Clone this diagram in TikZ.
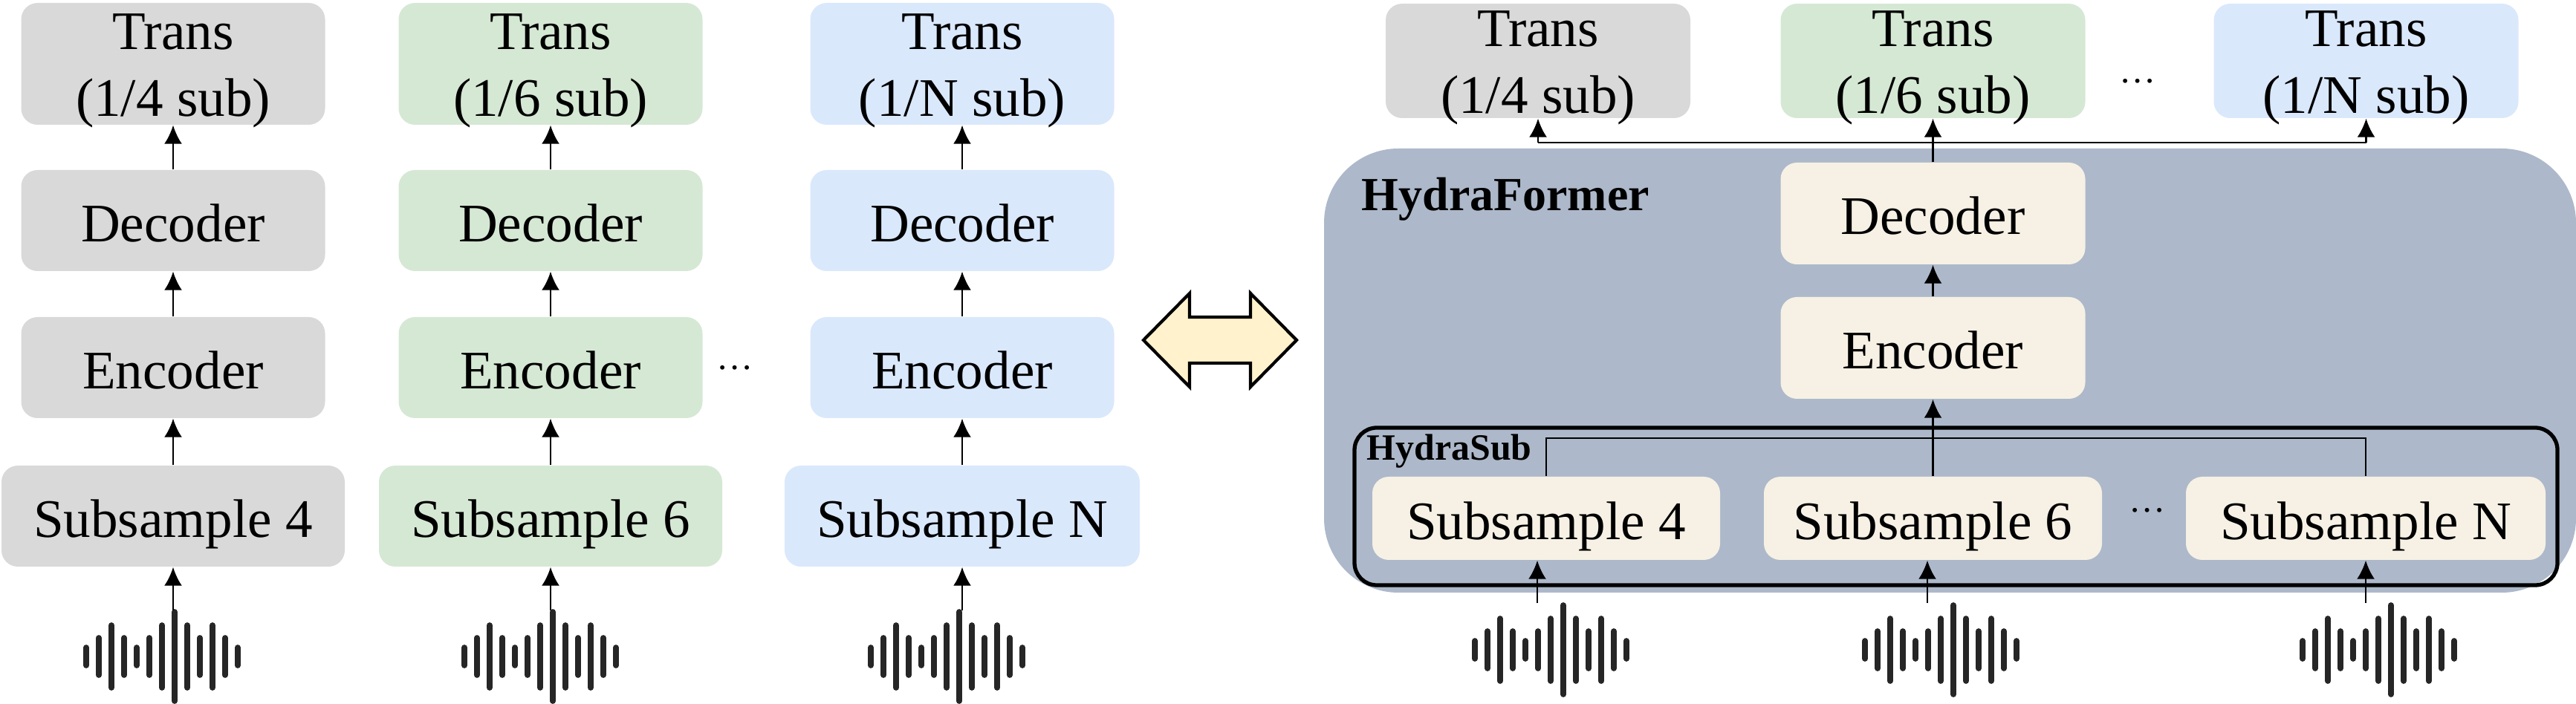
\documentclass[tikz,border=0pt]{standalone}
\usepackage{fontspec}
\setmainfont{Liberation Serif}
\usetikzlibrary{arrows.meta}
\definecolor{transgray}{HTML}{D9D9D9}
\definecolor{transgreen}{HTML}{D5E8D4}
\definecolor{transblue}{HTML}{DAE8FC}
\definecolor{hydrabody}{HTML}{F6F1E4}
\definecolor{hydrapanel}{HTML}{ADB9CA}
\definecolor{swapfill}{HTML}{FFF2CC}
\definecolor{wavedark}{HTML}{262626}

\begin{document}
\begin{tikzpicture}[
    stage/.style={rectangle, rounded corners=2.2mm, inner sep=0pt, align=center,
      text height=16pt, text depth=0pt,
      font=\fontsize{20.8}{25.6}\selectfont},
    blockA/.style={stage, fill=#1, minimum width=4.09cm, minimum height=1.36cm},
    transA/.style={blockA=#1, minimum height=1.64cm, text height=40pt},
    transB/.style={stage, fill=#1, minimum width=4.1cm, minimum height=1.54cm, text height=40pt},
    blockB/.style={stage, fill=hydrabody, minimum width=4.1cm, minimum height=1.37cm},
    subB/.style={stage, fill=hydrabody, minimum height=1.12cm},
    conn/.style={draw=black, line width=0.8pt, -{Latex[length=2.5mm,width=2.4mm]}},
    wire/.style={draw=black, line width=0.8pt},
    bar/.style={draw=wavedark, line width=2.2pt, line cap=round},
    dotsl/.style={font=\fontsize{14}{16}\selectfont, inner sep=0pt},
  ]

  \useasboundingbox (0,0) rectangle (34.67,-9.48);

  % tallest bar of the wave sits at #1, #2 is its middle
  \def\wave#1#2{
    \foreach \i/\hh in {-7/.12,-6/.25,-5/.42,-4/.25,-3/.12,-2/.25,-1/.42,0/.60,1/.42,2/.25,3/.42,4/.25,5/.12}
      \draw[bar] ({#1+\i*0.17},{#2-\hh}) -- ({#1+\i*0.17},{#2+\hh});
  }

  % ---------- column with subsample 4
  \begin{scope}[shift={(2.33,0)}]
    \node[transA=transgray] (transa) at (0,-0.86) {Trans\\(1/4 sub)};
    \node[blockA=transgray] (deca) at (0,-2.97) {Decoder};
    \node[blockA=transgray] (enca) at (0,-4.95) {Encoder};
    \node[blockA=transgray, minimum width=4.62cm] (suba) at (0,-6.95) {Subsample 4};
    \coordinate (ina) at (0,-8.22);
    \wave{0.02}{-8.84}
  \end{scope}
  \draw[conn] (ina) -- (suba);
  \draw[conn] (suba) -- (enca);
  \draw[conn] (enca) -- (deca);
  \draw[conn] (deca) -- (transa);

  % ---------- column with subsample 6
  \begin{scope}[shift={(7.41,0)}]
    \node[transA=transgreen] (transb) at (0,-0.86) {Trans\\(1/6 sub)};
    \node[blockA=transgreen] (decb) at (0,-2.97) {Decoder};
    \node[blockA=transgreen] (encb) at (0,-4.95) {Encoder};
    \node[blockA=transgreen, minimum width=4.62cm] (subb) at (0,-6.95) {Subsample 6};
    \coordinate (inb) at (0,-8.22);
    \wave{0.03}{-8.84}
  \end{scope}
  \draw[conn] (inb) -- (subb);
  \draw[conn] (subb) -- (encb);
  \draw[conn] (encb) -- (decb);
  \draw[conn] (decb) -- (transb);

  \node[dotsl] (dotsa) at (9.89,-4.95) {…};

  % ---------- column with subsample N
  \begin{scope}[shift={(12.95,0)}]
    \node[transA=transblue] (transc) at (0,-0.86) {Trans\\(1/N sub)};
    \node[blockA=transblue] (decc) at (0,-2.97) {Decoder};
    \node[blockA=transblue] (encc) at (0,-4.95) {Encoder};
    \node[blockA=transblue, minimum width=4.78cm] (subc) at (0,-6.95) {Subsample N};
    \coordinate (inc) at (0,-8.22);
    \wave{-0.04}{-8.84}
  \end{scope}
  \draw[conn] (inc) -- (subc);
  \draw[conn] (subc) -- (encc);
  \draw[conn] (encc) -- (decc);
  \draw[conn] (decc) -- (transc);

  % ---------- double arrow between the two halves
  \draw[fill=swapfill, line width=1.2pt, miter limit=10]
    (15.39,-4.58) -- (16.01,-3.95) -- (16.01,-4.27) -- (16.83,-4.27) -- (16.83,-3.95)
    -- (17.45,-4.58) -- (16.83,-5.21) -- (16.83,-4.89) -- (16.01,-4.89) -- (16.01,-5.21) -- cycle;

  % ---------- HydraFormer
  \node[rectangle, rounded corners=10mm, fill=hydrapanel, minimum width=16.85cm, minimum height=5.98cm] (panel) at (26.245,-4.99) {};
  \node[font=\fontsize{18.2}{20}\selectfont\bfseries, inner sep=0pt, anchor=west] (panellbl) at (18.32,-2.68) {HydraFormer};

  \node[transB=transgray] (transd) at (20.70,-0.82) {Trans\\(1/4 sub)};
  \node[transB=transgreen] (transe) at (26.015,-0.82) {Trans\\(1/6 sub)};
  \node[transB=transblue] (transf) at (31.845,-0.82) {Trans\\(1/N sub)};
  \node[dotsl] (dotsb) at (28.77,-1.09) {…};

  \node[blockB] (dece) at (26.015,-2.875) {Decoder};
  \node[blockB] (ence) at (26.015,-4.685) {Encoder};

  \node[rectangle, rounded corners=3mm, draw=black, line width=1.5pt, minimum width=16.19cm, minimum height=2.12cm] (hydrasub) at (26.325,-6.82) {};
  \node[font=\fontsize{14.2}{16}\selectfont\bfseries, inner sep=0pt, anchor=west] (hydrasublbl) at (18.39,-6.08) {HydraSub};

  \node[subB, minimum width=4.68cm] (subd) at (20.81,-6.98) {Subsample 4};
  \node[subB, minimum width=4.55cm] (sube) at (26.015,-6.98) {Subsample 6};
  \node[subB, minimum width=4.84cm] (subf) at (31.84,-6.98) {Subsample N};
  \node[dotsl] (dotsc) at (28.9,-6.87) {…};

  % rails above the subsample blocks and below the outputs
  \coordinate (rail) at (26.015,-5.90);
  \coordinate (bus) at (26.015,-1.92);
  \draw[wire] (subd.north) |- (rail) -| (subf.north);
  \draw[conn] (sube.north) -- (ence.south);
  \draw[conn] (ence.north) -- (dece.south);
  \draw[conn] (dece.north) -- (transe.south);
  \draw[wire] (transd.south |- bus) -- (transf.south |- bus);
  \draw[conn] (transd.south |- bus) -- (transd.south);
  \draw[conn] (transf.south |- bus) -- (transf.south);

  % inputs
  \coordinate (ind) at (20.69,-8.12);
  \coordinate (ine) at (25.94,-8.12);
  \coordinate (inf) at (31.84,-8.12);
  \draw[conn] (ind) -- (ind |- subd.south);
  \draw[conn] (ine) -- (ine |- sube.south);
  \draw[conn] (inf) -- (inf |- subf.south);
  \wave{21.04}{-8.75}
  \wave{26.29}{-8.75}
  \wave{32.18}{-8.75}

\end{tikzpicture}
\end{document}
